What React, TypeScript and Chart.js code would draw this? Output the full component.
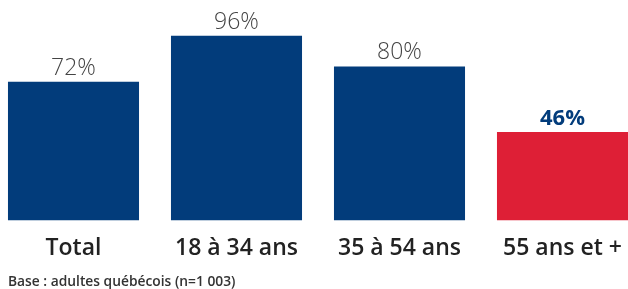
import React, { useEffect, useRef } from "react";
import { Chart, registerables } from "chart.js";

Chart.register(...registerables);

const categories = ["Total", "18 à 34 ans", "35 à 54 ans", "55 ans et +"];
const values = [72, 96, 80, 46];
const barColors = ["#023c7b", "#023c7b", "#023c7b", "#de1f36"];
const highlighted = [false, false, false, true];
const footnote = "Base : adultes québécois (n=1 003)";

const valueLabels = {
  id: "valueLabels",
  afterDatasetsDraw(chart: any) {
    const ctx = chart.ctx;
    const meta = chart.getDatasetMeta(0);
    meta.data.forEach((bar: any, i: number) => {
      ctx.save();
      ctx.textAlign = "center";
      ctx.textBaseline = "alphabetic";
      if (highlighted[i]) {
        ctx.font = "700 22px 'Open Sans'";
        ctx.fillStyle = "#023c7b";
      } else {
        ctx.font = "300 23px 'Open Sans'";
        ctx.fillStyle = "#444444";
      }
      ctx.fillText(values[i] + "%", bar.x, bar.y - 7);
      ctx.restore();
    });
  },
};

export default function App() {
  const ref = useRef<HTMLCanvasElement | null>(null);
  useEffect(() => {
    if (!ref.current) return;
    const chart = new Chart(ref.current, {
      type: "bar",
      data: {
        labels: categories,
        datasets: [
          {
            data: values,
            backgroundColor: barColors,
            categoryPercentage: 1,
            barPercentage: 0.804,
          },
        ],
      },
      options: {
        animation: false,
        responsive: false,
        maintainAspectRatio: false,
        layout: { padding: { top: 28, bottom: 21, left: 0, right: 0 } },
        plugins: {
          legend: { display: false },
          tooltip: { enabled: false },
        },
        scales: {
          y: { display: false, min: 0, max: 100 },
          x: {
            grid: { display: false },
            border: { display: false },
            ticks: {
              color: "#222222",
              font: { family: "'Open Sans'", size: 23, weight: "600" },
              padding: 6,
              maxRotation: 0,
            },
          },
        },
      },
      plugins: [valueLabels],
    });
    return () => chart.destroy();
  }, []);
  return (
    <div
      style={{
        position: "fixed",
        left: 0,
        top: 0,
        width: 628,
        height: 289,
        overflow: "hidden",
        background: "#ffffff",
      }}
    >
      <canvas
        ref={ref}
        width={652}
        height={289}
        style={{ position: "absolute", left: -8, top: 0, width: 652, height: 289 }}
      />
      <div
        style={{
          position: "absolute",
          left: 8,
          top: 271,
          fontFamily: "'Open Sans'",
          fontWeight: 600,
          fontSize: 13.8,
          color: "#333333",
          whiteSpace: "nowrap",
        }}
      >
        {footnote}
      </div>
    </div>
  );
}
